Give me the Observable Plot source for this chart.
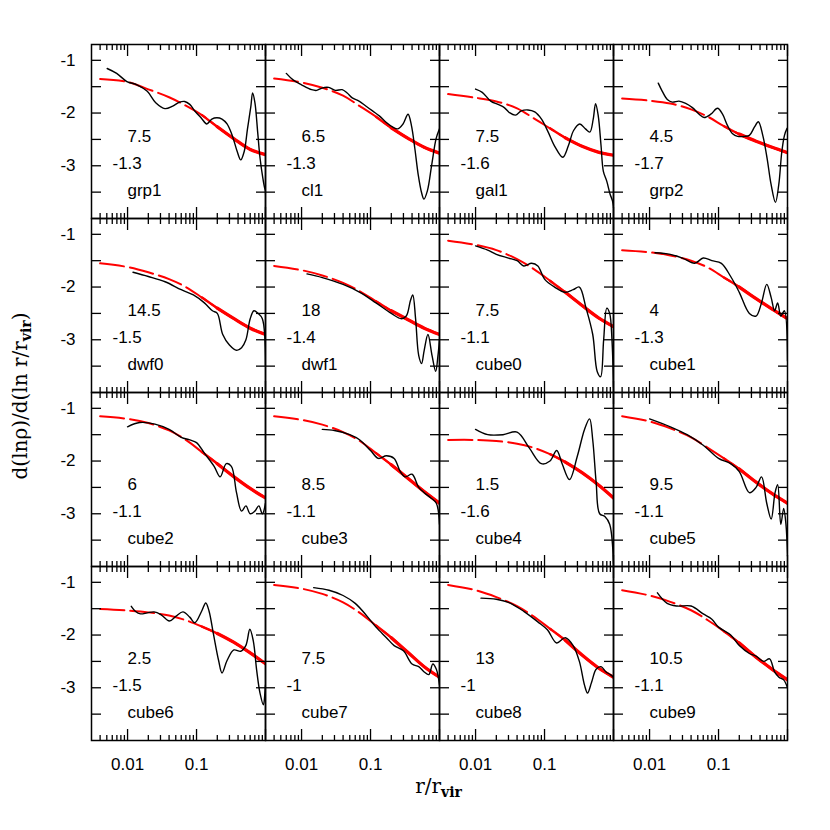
<!DOCTYPE html>
<html><head><meta charset="utf-8">
<script src="https://cdn.jsdelivr.net/npm/d3@7"></script>
<script src="https://cdn.jsdelivr.net/npm/@observablehq/plot@0.6"></script>
<style>body{margin:0;background:#fff}</style>
</head><body><div id="chart"></div>
<script>
const panels = ["grp1","cl1","gal1","grp2","dwf0","dwf1","cube0","cube1","cube2","cube3","cube4","cube5","cube6","cube7","cube8","cube9"];
const concentration = [7.5,6.5,7.5,4.5,14.5,18,7.5,4,6,8.5,1.5,9.5,2.5,7.5,13,10.5];
const innerSlope = [-1.3,-1.3,-1.6,-1.7,-1.5,-1.4,-1.1,-1.3,-1.1,-1.1,-1.6,-1.1,-1.5,-1,-1,-1.1];

// fitted slope (red), sampled at common radii
const fitR = [0.004,0.01,0.02,0.04,0.07,0.12,0.2,0.35,0.6,1.0];
const fit_grp1  = [-1.355,-1.41,-1.55,-1.70,-1.86,-2.04,-2.26,-2.49,-2.69,-2.79];
const fit_cl1   = [-1.345,-1.42,-1.52,-1.67,-1.87,-2.07,-2.28,-2.48,-2.65,-2.76];
const fit_gal1  = [-1.64,-1.71,-1.78,-1.91,-2.10,-2.29,-2.47,-2.63,-2.74,-2.80];
const fit_grp2  = [-1.725,-1.765,-1.82,-1.93,-2.07,-2.25,-2.40,-2.535,-2.65,-2.75];
const fit_dwf0  = [-1.55,-1.62,-1.72,-1.85,-2.0,-2.2,-2.4,-2.6,-2.78,-2.9];
const fit_dwf1  = [-1.6,-1.68,-1.78,-1.92,-2.08,-2.27,-2.45,-2.62,-2.78,-2.9];
const fit_cube0 = [-1.12,-1.2,-1.3,-1.47,-1.66,-1.88,-2.1,-2.35,-2.58,-2.75];
const fit_cube1 = [-1.3,-1.34,-1.4,-1.5,-1.63,-1.82,-2.0,-2.22,-2.42,-2.6];
const fit_cube2 = [-1.15,-1.2,-1.28,-1.42,-1.6,-1.83,-2.05,-2.3,-2.52,-2.7];
const fit_cube3 = [-1.15,-1.22,-1.31,-1.45,-1.62,-1.85,-2.07,-2.33,-2.58,-2.8];
const fit_cube4 = [-1.6,-1.6,-1.62,-1.67,-1.75,-1.87,-2.02,-2.22,-2.45,-2.7];
const fit_cube5 = [-1.15,-1.25,-1.38,-1.55,-1.75,-1.95,-2.15,-2.4,-2.62,-2.8];
const fit_cube6 = [-1.505,-1.535,-1.57,-1.63,-1.72,-1.84,-1.97,-2.14,-2.34,-2.545];
const fit_cube7 = [-1.05,-1.12,-1.22,-1.38,-1.58,-1.82,-2.05,-2.33,-2.6,-2.8];
const fit_cube8 = [-1.05,-1.15,-1.28,-1.45,-1.65,-1.88,-2.1,-2.38,-2.62,-2.8];
const fit_cube9 = [-1.15,-1.25,-1.37,-1.53,-1.72,-1.93,-2.15,-2.42,-2.65,-2.85];

// measured slope profiles (black), [r/rvir, slope]
const prof_grp1 = [[0.00506,-1.155],[0.00695,-1.248],[0.00977,-1.402],[0.0137,-1.464],[0.0193,-1.588],[0.0256,-1.805],[0.0348,-1.916],[0.0452,-1.867],[0.0567,-1.793],[0.0673,-1.78],[0.0797,-1.836],[0.0944,-1.96],[0.1185,-2.102],[0.1405,-2.207],[0.1667,-2.115],[0.1977,-2.09],[0.234,-2.115],[0.277,-2.207],[0.329,-2.424],[0.39,-2.734],[0.437,-2.889],[0.49,-2.734],[0.548,-2.3],[0.614,-1.867],[0.65,-1.619],[0.703,-1.805],[0.77,-2.362],[0.834,-2.858],[0.914,-3.229],[0.975,-3.43],[0.997,-3.47],[1.0,-3.95]];
const prof_cl1 = [[0.00601,-1.248],[0.00754,-1.372],[0.01,-1.464],[0.014,-1.557],[0.0166,-1.57],[0.0197,-1.526],[0.0247,-1.514],[0.0309,-1.57],[0.0388,-1.557],[0.0459,-1.619],[0.0543,-1.712],[0.0681,-1.774],[0.0853,-1.867],[0.107,-1.96],[0.134,-2.053],[0.168,-2.176],[0.211,-2.269],[0.249,-2.3],[0.296,-2.207],[0.35,-2.022],[0.392,-2.238],[0.439,-2.672],[0.491,-3.167],[0.549,-3.508],[0.595,-3.632],[0.667,-3.477],[0.771,-2.981],[0.893,-2.486],[1.0,-2.3]];
const prof_gal1 = [[0.01,-1.545],[0.0125,-1.607],[0.0166,-1.774],[0.0211,-1.836],[0.0261,-1.898],[0.0309,-1.991],[0.0379,-2.04],[0.0459,-1.96],[0.0575,-1.941],[0.0721,-1.978],[0.0904,-2.115],[0.113,-2.362],[0.142,-2.641],[0.184,-2.839],[0.223,-2.61],[0.264,-2.331],[0.324,-2.207],[0.392,-2.3],[0.454,-2.362],[0.508,-2.115],[0.55,-1.824],[0.601,-2.053],[0.659,-2.61],[0.713,-3.105],[0.798,-3.291],[0.893,-3.539],[0.966,-3.663],[1.0,-3.79]];
const prof_grp2 = [[0.01337,-1.433],[0.0153,-1.588],[0.0181,-1.743],[0.0214,-1.793],[0.0267,-1.774],[0.0334,-1.817],[0.0418,-1.898],[0.0523,-2.022],[0.0618,-2.084],[0.0773,-2.022],[0.0966,-1.91],[0.1143,-2.022],[0.135,-2.238],[0.16,-2.393],[0.189,-2.443],[0.237,-2.443],[0.28,-2.424],[0.331,-2.269],[0.378,-2.164],[0.438,-2.424],[0.506,-2.858],[0.578,-3.353],[0.669,-3.694],[0.748,-3.353],[0.827,-2.734],[0.904,-2.424],[0.978,-2.3],[1.0,-2.28]];
const prof_dwf0 = [[0.012,-1.72],[0.02,-1.8],[0.035,-1.9],[0.06,-2.05],[0.09,-2.15],[0.13,-2.3],[0.17,-2.45],[0.2,-2.5],[0.24,-2.9],[0.3,-3.1],[0.38,-3.2],[0.45,-3.15],[0.52,-3.0],[0.6,-2.6],[0.68,-2.45],[0.78,-2.5],[0.9,-2.6],[1.0,-3.5]];
const prof_dwf1 = [[0.012,-1.75],[0.02,-1.82],[0.04,-1.95],[0.07,-2.1],[0.12,-2.3],[0.2,-2.5],[0.28,-2.6],[0.33,-2.55],[0.38,-2.25],[0.41,-2.15],[0.45,-2.6],[0.5,-3.3],[0.55,-3.45],[0.6,-3.2],[0.68,-2.9],[0.78,-3.3],[0.88,-3.6],[0.95,-3.3],[1.0,-3.0]];
const prof_cube0 = [[0.01,-1.22],[0.015,-1.3],[0.02,-1.38],[0.03,-1.45],[0.04,-1.5],[0.05,-1.6],[0.065,-1.55],[0.08,-1.6],[0.1,-1.85],[0.14,-2.0],[0.2,-2.1],[0.26,-2.05],[0.32,-2.0],[0.4,-2.4],[0.5,-2.9],[0.58,-3.6],[0.65,-3.7],[0.72,-3.0],[0.8,-2.4],[0.88,-2.5],[0.95,-3.0],[1.0,-3.9]];
const prof_cube1 = [[0.012,-1.35],[0.02,-1.38],[0.03,-1.45],[0.045,-1.55],[0.06,-1.45],[0.08,-1.5],[0.11,-1.55],[0.15,-1.8],[0.2,-2.1],[0.28,-2.5],[0.35,-2.55],[0.42,-2.3],[0.5,-1.95],[0.58,-2.2],[0.65,-2.45],[0.72,-2.3],[0.8,-2.55],[0.9,-2.45],[1.0,-3.4]];
const prof_cube2 = [[0.01,-1.35],[0.015,-1.27],[0.025,-1.3],[0.04,-1.4],[0.06,-1.55],[0.08,-1.6],[0.1,-1.65],[0.13,-1.85],[0.18,-2.1],[0.22,-2.3],[0.27,-2.05],[0.32,-2.1],[0.38,-2.6],[0.45,-2.95],[0.52,-2.85],[0.6,-3.0],[0.7,-2.95],[0.8,-2.85],[0.9,-3.0],[1.0,-2.8]];
const prof_cube3 = [[0.02,-1.4],[0.03,-1.42],[0.05,-1.5],[0.07,-1.6],[0.1,-1.8],[0.13,-1.95],[0.17,-1.9],[0.22,-1.95],[0.27,-2.2],[0.32,-2.3],[0.4,-2.25],[0.5,-2.5],[0.6,-2.6],[0.75,-2.7],[0.9,-2.8],[1.0,-3.2]];
const prof_cube4 = [[0.01,-1.4],[0.015,-1.5],[0.025,-1.5],[0.04,-1.45],[0.06,-1.75],[0.09,-2.05],[0.12,-2.0],[0.15,-1.8],[0.18,-2.05],[0.23,-2.35],[0.3,-1.9],[0.38,-1.4],[0.45,-1.2],[0.5,-1.6],[0.56,-2.4],[0.63,-3.0],[0.75,-3.05],[0.88,-3.2],[1.0,-3.95]];
const prof_cube5 = [[0.01,-1.2],[0.02,-1.35],[0.035,-1.5],[0.06,-1.7],[0.1,-1.95],[0.15,-2.05],[0.2,-2.2],[0.28,-2.6],[0.35,-2.5],[0.42,-2.3],[0.5,-2.8],[0.58,-3.1],[0.66,-2.6],[0.72,-2.45],[0.8,-3.2],[0.88,-2.9],[0.95,-3.2],[1.0,-3.8]];
const prof_cube6 = [[0.01133,-1.455],[0.01297,-1.548],[0.0154,-1.598],[0.0193,-1.579],[0.0242,-1.561],[0.0304,-1.611],[0.0404,-1.735],[0.0506,-1.642],[0.0635,-1.561],[0.0797,-1.66],[0.0944,-1.766],[0.1185,-1.548],[0.136,-1.393],[0.152,-1.548],[0.176,-1.984],[0.209,-2.483],[0.234,-2.72],[0.277,-2.483],[0.348,-2.283],[0.437,-2.308],[0.518,-2.202],[0.593,-1.891],[0.665,-2.109],[0.745,-2.67],[0.834,-3.106],[0.933,-3.324],[0.98,-3.1],[1.0,-2.95]];
const prof_cube7 = [[0.015,-1.1],[0.025,-1.15],[0.04,-1.25],[0.06,-1.4],[0.09,-1.65],[0.12,-1.85],[0.17,-2.05],[0.22,-2.2],[0.3,-2.3],[0.4,-2.55],[0.5,-2.6],[0.6,-2.7],[0.7,-2.75],[0.8,-2.55],[0.9,-2.65],[1.0,-2.95]];
const prof_cube8 = [[0.012,-1.3],[0.02,-1.32],[0.03,-1.38],[0.05,-1.55],[0.08,-1.75],[0.11,-1.9],[0.15,-2.15],[0.2,-2.05],[0.26,-2.2],[0.32,-2.5],[0.38,-2.95],[0.42,-3.1],[0.48,-2.9],[0.56,-2.65],[0.66,-2.6],[0.78,-2.7],[0.9,-2.75],[1.0,-2.8]];
const prof_cube9 = [[0.013,-1.2],[0.018,-1.4],[0.025,-1.45],[0.04,-1.45],[0.06,-1.6],[0.08,-1.7],[0.1,-1.85],[0.15,-2.0],[0.2,-2.2],[0.28,-2.35],[0.35,-2.4],[0.45,-2.5],[0.55,-2.45],[0.65,-2.7],[0.75,-2.8],[0.88,-2.85],[1.0,-3.0]];

const yMajor = [-1,-2,-3];
const yAllTicks = [-3.5,-3,-2.5,-2,-1.5,-1];
const xMajor = [0.01,0.1,1];
const xMinor = [0.004,0.005,0.006,0.007,0.008,0.009,0.02,0.03,0.04,0.05,0.06,0.07,0.08,0.09,0.2,0.3,0.4,0.5,0.6,0.7,0.8,0.9];
const xLabels = [0.01,0.1];

const fits = {grp1:fit_grp1,cl1:fit_cl1,gal1:fit_gal1,grp2:fit_grp2,dwf0:fit_dwf0,dwf1:fit_dwf1,cube0:fit_cube0,cube1:fit_cube1,cube2:fit_cube2,cube3:fit_cube3,cube4:fit_cube4,cube5:fit_cube5,cube6:fit_cube6,cube7:fit_cube7,cube8:fit_cube8,cube9:fit_cube9};
const profs = {grp1:prof_grp1,cl1:prof_cl1,gal1:prof_gal1,grp2:prof_grp2,dwf0:prof_dwf0,dwf1:prof_dwf1,cube0:prof_cube0,cube1:prof_cube1,cube2:prof_cube2,cube3:prof_cube3,cube4:prof_cube4,cube5:prof_cube5,cube6:prof_cube6,cube7:prof_cube7,cube8:prof_cube8,cube9:prof_cube9};

const black = [], red = [], info = [];
panels.forEach((p, i) => {
  const col = i % 4, row = Math.floor(i / 4);
  profs[p].forEach(([x, y]) => black.push({panel: p, col, row, x, y}));
  fits[p].forEach((y, j) => red.push({panel: p, col, row, x: fitR[j], y}));
  info.push({panel: p, col, row, c: String(concentration[i]), s: String(innerSlope[i])});
});
const redOuter = red.filter(d => d.x >= 0.12);
const redFar = red.filter(d => d.x >= 0.2);

const font = "'Liberation Sans', Arial, Helvetica, sans-serif";
const tickStyle = {stroke: "black", strokeWidth: 1.3, fill: "none", label: null, facetAnchor: null};

const chart = Plot.plot({
  width: 830, height: 830,
  marginLeft: 89.5, marginRight: 42.5, marginTop: 44, marginBottom: 90,
  style: {fontFamily: font, fontSize: "17px", background: "white", color: "black"},
  x: {type: "log", domain: [0.003, 1]},
  y: {domain: [-4, -0.7]},
  fx: {domain: [0,1,2,3], padding: 0, axis: null},
  fy: {domain: [0,1,2,3], padding: 0, axis: null},
  marks: [
    Plot.line(red, {x: "x", y: "y", fx: "col", fy: "row", z: "panel", stroke: "#ff0000", strokeWidth: 2, strokeDasharray: "24,6", curve: "catmull-rom", clip: true}),
    Plot.line(redOuter, {x: "x", y: "y", fx: "col", fy: "row", z: "panel", stroke: "#ff0000", strokeWidth: 2.4, curve: "catmull-rom", clip: true}),
    Plot.line(redFar, {x: "x", y: "y", fx: "col", fy: "row", z: "panel", stroke: "#ff0000", strokeWidth: 3.3, curve: "catmull-rom", clip: true}),
    Plot.line(black, {x: "x", y: "y", fx: "col", fy: "row", z: "panel", stroke: "black", strokeWidth: 1.4, curve: "catmull-rom", clip: true}),
    Plot.axisX(xMinor, {anchor: "top", tickSize: -5, ...tickStyle}),
    Plot.axisX(xMinor, {anchor: "bottom", tickSize: -5, ...tickStyle}),
    Plot.axisX(xMajor, {anchor: "top", tickSize: -11, ...tickStyle}),
    Plot.axisX(xMajor, {anchor: "bottom", tickSize: -11, ...tickStyle}),
    Plot.axisY(yAllTicks, {anchor: "left", tickSize: -10, ...tickStyle}),
    Plot.axisY(yAllTicks, {anchor: "right", tickSize: -10, ...tickStyle}),
    Plot.axisX(xLabels, {anchor: "bottom", tickSize: 0, tickPadding: 17, tickFormat: d => String(d), label: null, fontSize: 17}),
    Plot.axisY(yMajor, {anchor: "left", tickSize: 0, tickPadding: 16, tickFormat: d => String(d), label: null, fontSize: 17}),
    Plot.frame({stroke: "black", strokeWidth: 1.5}),
    Plot.text(info, {fx: "col", fy: "row", text: "c", frameAnchor: "top-left", dx: 36, dy: 85, textAnchor: "start", fontSize: 17}),
    Plot.text(info, {fx: "col", fy: "row", text: "s", frameAnchor: "top-left", dx: 21, dy: 112, textAnchor: "start", fontSize: 17}),
    Plot.text(info, {fx: "col", fy: "row", text: "panel", frameAnchor: "top-left", dx: 36, dy: 139, textAnchor: "start", fontSize: 17})
  ]
});

const svg = d3.select(chart);
const serif = "'DejaVu Serif', 'Liberation Serif', serif";
const xt = svg.append("text").attr("x", 438.5).attr("y", 793).attr("text-anchor", "middle")
  .attr("font-family", serif).attr("font-size", 20).attr("fill", "black");
xt.append("tspan").text("r/r");
xt.append("tspan").attr("dy", 4).attr("font-size", 14).attr("font-weight", "bold").text("vir");

const yt = svg.append("text").attr("transform", "translate(27,396) rotate(-90)").attr("text-anchor", "middle")
  .attr("font-family", serif).attr("font-size", 20).attr("fill", "black");
yt.append("tspan").text("d(ln\u03c1)/d(ln r/r");
yt.append("tspan").attr("dy", 4).attr("font-size", 14).attr("font-weight", "bold").text("vir");
yt.append("tspan").attr("dy", -4).text(")");

document.getElementById("chart").appendChild(chart);
</script>
</body></html>
